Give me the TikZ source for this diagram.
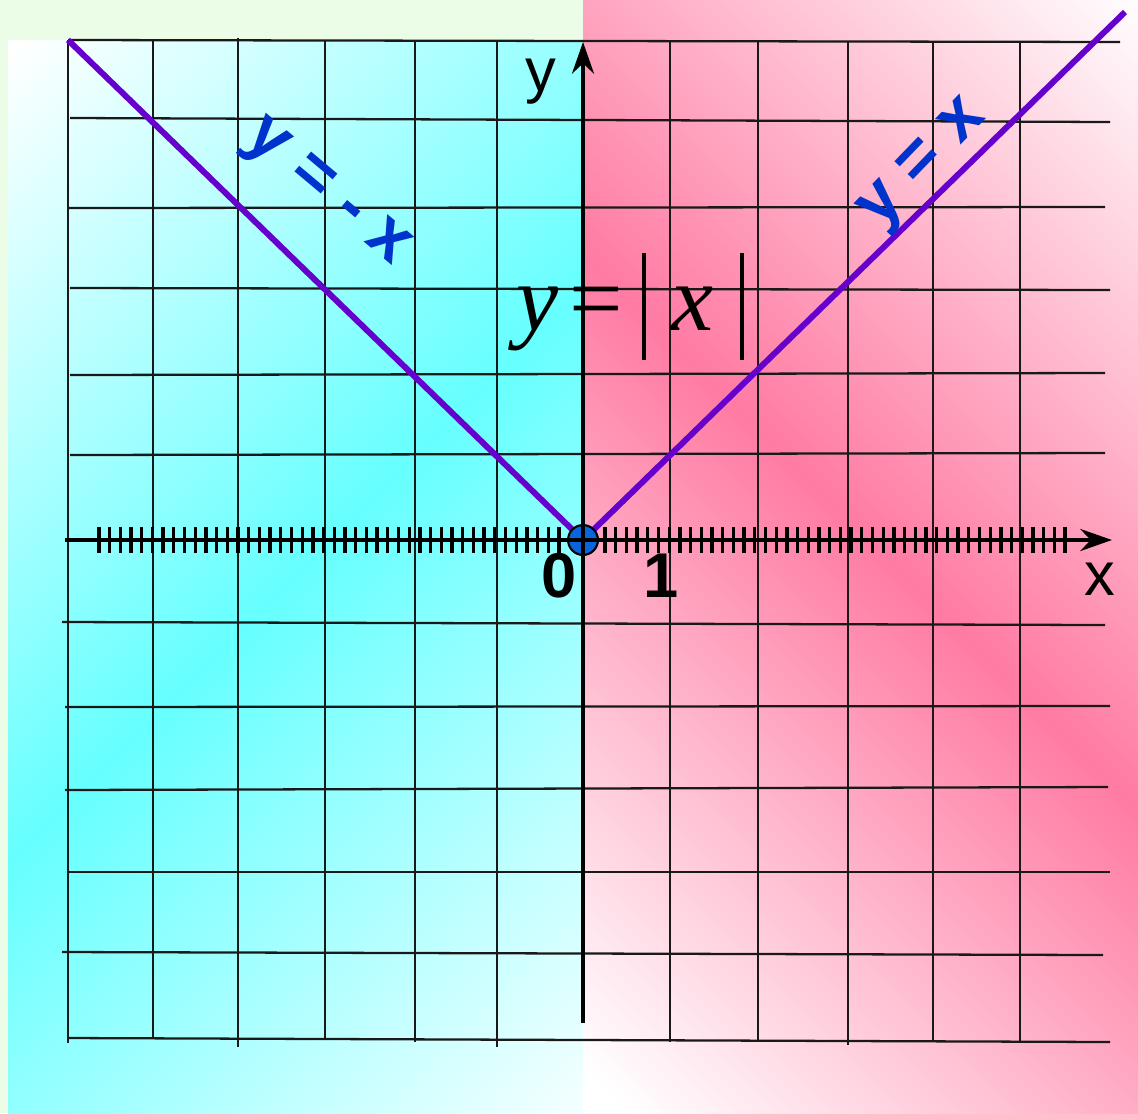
\documentclass[tikz,border=0pt]{standalone}
\usepackage{fontspec}
\newfontfamily\arialfont{Liberation Sans}
\newfontfamily\timesfont{Liberation Serif}
\usetikzlibrary{arrows.meta}
\definecolor{greenbg}{HTML}{EBFDE6}
\definecolor{cyanfill}{HTML}{66FFFF}
\definecolor{pinkfill}{HTML}{FF7BA3}
\definecolor{lineviolet}{HTML}{6600CC}
\definecolor{labelblue}{HTML}{0033CC}
\definecolor{dotblue}{HTML}{0A64DC}

\begin{document}
\begin{tikzpicture}[
        x=0.02cm, y=-0.02cm,
        >={Stealth[length=18pt,width=12.5pt]},
        gridline/.style={
            line width=1.3pt,
            black!90
        },
        axis/.style={
            ->,
            line width=2.3pt,
            black
        },
        tickmark/.style={
            line width=1.9pt,
            black
        },
        graphline/.style={
            line width=3.4pt,
            lineviolet
        },
        axislabel/.style={
            font=\arialfont\fontsize{35}{40}\selectfont
        },
        numlabel/.style={
            font=\arialfont\bfseries\fontsize{36}{40}\selectfont
        },
        graphlabel/.style={
            font=\arialfont\bfseries\fontsize{39}{44}\selectfont,
            text=labelblue,
            inner sep=0pt
        },
        origindot/.style={
            circle,
            draw=black,
            line width=1.2pt,
            fill=dotblue,
            minimum size=17pt,
            inner sep=0pt
        }
    ]
    \useasboundingbox (0,0) rectangle (1138,1113);

    % Background
    \fill[greenbg] (0,0) rectangle (1138,1113);
    \begin{scope}
        \clip (8,40) rectangle (583,1113);
        \shade[top color=white, bottom color=cyanfill!8, middle color=cyanfill,
            shading angle=45] (-280,0) rectangle (870,1150);
    \end{scope}
    \begin{scope}
        \clip (583,0) rectangle (1138,1113);
        \shade[top color=white, bottom color=white, middle color=pinkfill,
            shading angle=-45] (290,-40) rectangle (1450,1120);
    \end{scope}

    % Grid
    \foreach \xa/\ya/\xb/\yb in {68/40/1120/42, 70/118/1110/122, 68/208/1105/207,
            70/288/1110/290, 70/375/1105/373, 70/455/1105/453, 62/622/1105/625,
            65/707/1110/706, 65/790/1108/787, 68/872/1110/872, 62/952/1103/955,
            68/1038/1110/1042}
        \draw[gridline] (\xa,\ya) -- (\xb,\yb);
    \foreach \gx/\ga/\gb in {68/40/1043, 153/40/1038, 238/38/1047, 325/40/1040,
            415/40/1042, 497/40/1047, 670/42/1042, 758/42/1040, 848/42/1045,
            933/42/1042, 1020/42/1042}
        \draw[gridline] (\gx,\ga) -- (\gx,\gb);

    % Graph y = |x|
    \coordinate (origin) at (583,540);
    \coordinate (leftend) at (68,40);
    \coordinate (rightend) at (1125,12);
    \draw[graphline] (leftend) -- (origin) -- (rightend);

    % Labels
    \node[graphlabel, rotate=-40] (negxlabel) at (325,195) {y = - x};
    \node[graphlabel, rotate=46] (posxlabel) at (925,166) {y = x};
    \node[font=\timesfont\fontsize{54}{60}\selectfont, anchor=base] (abslabel) at (630,330)
        {\itshape y\upshape\hspace{0.12em}=\hspace{0.2em}\rule[-0.32em]{0.045em}{1.13em}\hspace{0.27em}\itshape x\hspace{0.27em}\rule[-0.32em]{0.045em}{1.13em}};

    % Origin
    \node[origindot] (O) at (origin) {};

    % Axes
    \coordinate (xstart) at (65,540);
    \coordinate (xend) at (1112,540);
    \coordinate (ystart) at (583,1023);
    \coordinate (yend) at (583,42);
    \draw[axis] (xstart) -- (xend);
    \draw[axis] (ystart) -- (yend);
    \foreach \k in {0,...,43} {
        \draw[tickmark] ({559-10.7*\k},527) -- ++(0,26);
        \draw[tickmark] ({605+10.7*\k},527) -- ++(0,26);
    }
    \node[axislabel] (xlabel) at (1100,579) {x};
    \node[axislabel] (ylabel) at (541,82) {y};
    \node[numlabel] (zero) at (559,576) {0};
    \node[numlabel] (one) at (661,576) {1};

    \end{tikzpicture}
\end{document}
